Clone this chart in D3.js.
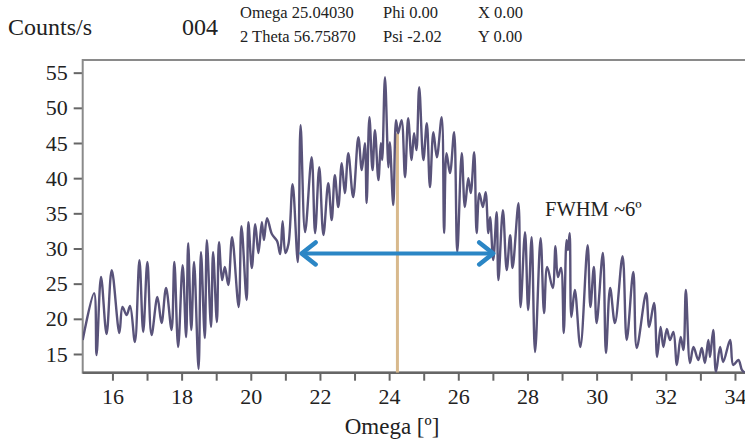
<!DOCTYPE html>
<html>
<head>
<meta charset="utf-8">
<script src="https://cdn.jsdelivr.net/npm/d3@7"></script>
<style>
  body { margin: 0; background: #fff; }
  svg text { font-family: "Liberation Serif", "DejaVu Serif", serif; fill: #222; }
</style>
</head>
<body>
<div class="chart"></div>
<script>

// Scan data (local highs / lows)
var omega = [15.14, 15.47, 15.54, 15.67, 15.83, 15.98, 16.20, 16.29, 16.41, 16.51,
  16.65, 16.78, 16.89, 17.01, 17.13, 17.30, 17.42, 17.55, 17.71, 17.79,
  17.90, 18.03, 18.13, 18.19, 18.28, 18.36, 18.49, 18.56, 18.67, 18.73,
  18.85, 18.91, 19.02, 19.08, 19.17, 19.25, 19.35, 19.46, 19.65, 19.73,
  19.88, 19.93, 20.03, 20.13, 20.22, 20.32, 20.38, 20.47, 20.61, 20.76,
  20.85, 20.92, 21.00, 21.09, 21.21, 21.36, 21.44, 21.57, 21.76, 21.86,
  21.98, 22.10, 22.24, 22.34, 22.43, 22.53, 22.63, 22.72, 22.82, 22.96,
  23.11, 23.21, 23.30, 23.35, 23.43, 23.52, 23.59, 23.69, 23.76, 23.80,
  23.88, 23.98, 24.02, 24.12, 24.20, 24.26, 24.36, 24.46, 24.55, 24.65,
  24.72, 24.79, 24.87, 24.99, 25.09, 25.18, 25.28, 25.38, 25.52, 25.59,
  25.66, 25.76, 25.88, 25.97, 26.10, 26.19, 26.29, 26.36, 26.46, 26.53,
  26.61, 26.71, 26.79, 26.87, 26.92, 27.01, 27.11, 27.16, 27.29, 27.40,
  27.50, 27.57, 27.74, 27.80, 27.93, 28.02, 28.12, 28.22, 28.38, 28.48,
  28.57, 28.73, 28.81, 28.88, 28.97, 29.05, 29.13, 29.17, 29.22, 29.27,
  29.37, 29.53, 29.74, 29.82, 29.92, 30.00, 30.18, 30.27, 30.39, 30.53,
  30.75, 30.87, 31.06, 31.16, 31.43, 31.52, 31.66, 31.75, 31.85, 31.93,
  32.03, 32.12, 32.22, 32.32, 32.43, 32.51, 32.58, 32.70, 32.80, 32.94,
  33.04, 33.13, 33.23, 33.28, 33.37, 33.45, 33.57, 33.66, 33.86, 33.95,
  34.10, 34.20, 34.29];

var counts = [16.99, 23.66, 14.86, 25.94, 17.84, 26.93, 17.98, 21.68, 20.54, 21.82,
  16.70, 28.35, 18.13, 28.07, 17.70, 23.10, 19.40, 24.38, 18.41, 28.07,
  15.99, 27.64, 17.41, 30.77, 18.41, 28.07, 12.87, 29.49, 17.27, 31.19,
  18.84, 29.49, 19.55, 30.91, 25.51, 27.36, 24.80, 31.62, 21.68, 33.18,
  22.67, 33.75, 27.22, 33.47, 29.35, 33.75, 31.19, 34.32, 32.05, 31.05,
  29.20, 33.89, 29.35, 30.63, 39.15, 28.07, 47.53, 32.33, 42.98, 32.19,
  41.56, 31.90, 39.29, 34.03, 40.43, 35.88, 42.13, 37.87, 43.55, 37.30,
  45.82, 41.14, 44.97, 36.45, 48.66, 41.14, 46.82, 39.72, 44.97, 42.56,
  54.35, 41.56, 45.11, 36.16, 48.24, 46.39, 48.24, 40.14, 48.52, 42.56,
  46.39, 43.98, 52.93, 42.56, 47.81, 38.72, 46.53, 42.98, 48.66, 32.19,
  43.55, 40.71, 46.53, 29.49, 43.55, 35.88, 40.00, 37.87, 43.69, 32.19,
  37.87, 35.88, 38.01, 32.19, 34.46, 28.35, 35.17, 25.51, 35.45, 26.93,
  31.90, 27.22, 36.45, 21.68, 32.33, 21.25, 31.62, 15.28, 31.48, 20.82,
  27.36, 24.38, 30.34, 25.94, 27.22, 17.98, 31.19, 29.77, 32.19, 20.26,
  24.09, 15.99, 30.48, 21.68, 27.36, 19.40, 29.35, 15.14, 24.38, 19.40,
  28.92, 16.99, 26.65, 15.85, 23.66, 18.84, 22.24, 14.57, 18.84, 15.99,
  18.55, 16.99, 18.13, 13.44, 17.41, 15.57, 24.09, 13.72, 15.99, 14.15,
  15.85, 13.72, 16.99, 14.57, 18.41, 12.44, 15.99, 13.86, 16.99, 13.44,
  14.15, 12.73, 12.30];

var yTicks = [15, 20, 25, 30, 35, 40, 45, 50, 55];
var xMinor = d3.range(16, 35, 1);
var xLabels = [16, 18, 20, 22, 24, 26, 28, 30, 32, 34];

// Header block of the instrument readout
var headerCols = [
  {x: 240, lines: ["Omega 25.04030", "2 Theta 56.75870"]},
  {x: 383, lines: ["Phi 0.00", "Psi -2.02"]},
  {x: 478, lines: ["X 0.00", "Y 0.00"]}
];

// FWHM arrow and peak marker
var fwhmFrom = 21.47, fwhmTo = 27.01, fwhmLevel = 29.3;
var peakOmega = 24.24, peakTop = 46.4;

// Configuration
var width = 745;
var height = 442;
var plotL = 82.7, plotT = 60, plotR = 745, plotB = 372.7;

var svg = d3.select(".chart").append("svg")
    .attr("width", width)
    .attr("height", height);

var x = d3.scaleLinear().domain([15.14, 34.29]).range([plotL, plotR]);
var y = d3.scaleLinear().domain([12.34, 56.8]).range([plotB, plotT]);

// header text
svg.append("text").attr("x", 8).attr("y", 35)
    .style("font-size", "24px").text("Counts/s");
svg.append("text").attr("x", 182).attr("y", 35)
    .style("font-size", "24px").text("004");

headerCols.forEach(function(c) {
  c.lines.forEach(function(t, i) {
    svg.append("text")
      .attr("x", c.x)
      .attr("y", 18 + i * 24)
      .style("font-size", "16.5px")
      .text(t);
  });
});

// clip path for the plot area
svg.append("clipPath")
  .attr("id", "plot-clip")
  .append("rect")
  .attr("x", plotL).attr("y", plotT)
  .attr("width", plotR - plotL).attr("height", plotB - plotT);

// axes
var yAxis = svg.append("g")
    .attr("transform", "translate(" + plotL + ",0)")
    .call(d3.axisLeft(y).tickValues(yTicks).tickSize(9).tickPadding(6));

var xAxis = svg.append("g")
    .attr("transform", "translate(0," + plotB + ")")
    .call(d3.axisBottom(x).tickValues(xMinor).tickSize(8).tickPadding(8)
      .tickFormat(function(d) { return xLabels.indexOf(d) >= 0 ? d : ""; }));

[yAxis, xAxis].forEach(function(a) {
  a.select(".domain").remove();
  a.selectAll(".tick line").attr("stroke", "#666").attr("stroke-width", 2);
  a.selectAll(".tick text")
    .style("font-family", "'Liberation Serif', serif")
    .style("font-size", "22px")
    .attr("fill", "#222");
});

// frame
svg.append("rect")
  .attr("x", plotL).attr("y", plotT)
  .attr("width", plotR - plotL + 5).attr("height", plotB - plotT)
  .attr("fill", "none")
  .attr("stroke", "#8a8a8a")
  .attr("stroke-width", 2);

svg.append("line")
  .attr("x1", plotL).attr("x2", plotR)
  .attr("y1", plotB).attr("y2", plotB)
  .attr("stroke", "#666").attr("stroke-width", 2.5);

var plot = svg.append("g").attr("clip-path", "url(#plot-clip)");

// peak marker (tan)
plot.append("line")
  .attr("x1", x(peakOmega)).attr("x2", x(peakOmega))
  .attr("y1", y(peakTop)).attr("y2", plotB)
  .attr("stroke", "#d8b98c")
  .attr("stroke-width", 3);

// the scan
var line = d3.line()
    .x(function(d, i) { return x(omega[i]); })
    .y(function(d) { return y(d); })
    .curve(d3.curveCatmullRom.alpha(0.5));

plot.append("path")
  .attr("d", line(counts))
  .attr("fill", "none")
  .attr("stroke", "#59537a")
  .attr("stroke-width", 2.4)
  .attr("stroke-linejoin", "round");

// FWHM double arrow
var blue = "#2b86c5";
var ay = y(fwhmLevel), ax1 = x(fwhmFrom), ax2 = x(fwhmTo);
plot.append("line")
  .attr("x1", ax1 + 2).attr("x2", ax2 - 2)
  .attr("y1", ay).attr("y2", ay)
  .attr("stroke", blue).attr("stroke-width", 4);

plot.append("path")
  .attr("d", "M" + (ax1 + 14) + "," + (ay - 11) + "L" + ax1 + "," + ay + "L" + (ax1 + 14) + "," + (ay + 11)
        + "M" + (ax2 - 14) + "," + (ay - 11) + "L" + ax2 + "," + ay + "L" + (ax2 - 14) + "," + (ay + 11))
  .attr("fill", "none")
  .attr("stroke", blue)
  .attr("stroke-width", 4.5)
  .attr("stroke-linecap", "round")
  .attr("stroke-linejoin", "round");

svg.append("text")
  .attr("x", 545).attr("y", 216)
  .style("font-size", "20.5px")
  .text("FWHM ~6º");

// axis title
svg.append("text")
  .attr("x", 392).attr("y", 434)
  .attr("text-anchor", "middle")
  .style("font-size", "23px")
  .text("Omega [º]");

</script>
</body>
</html>
